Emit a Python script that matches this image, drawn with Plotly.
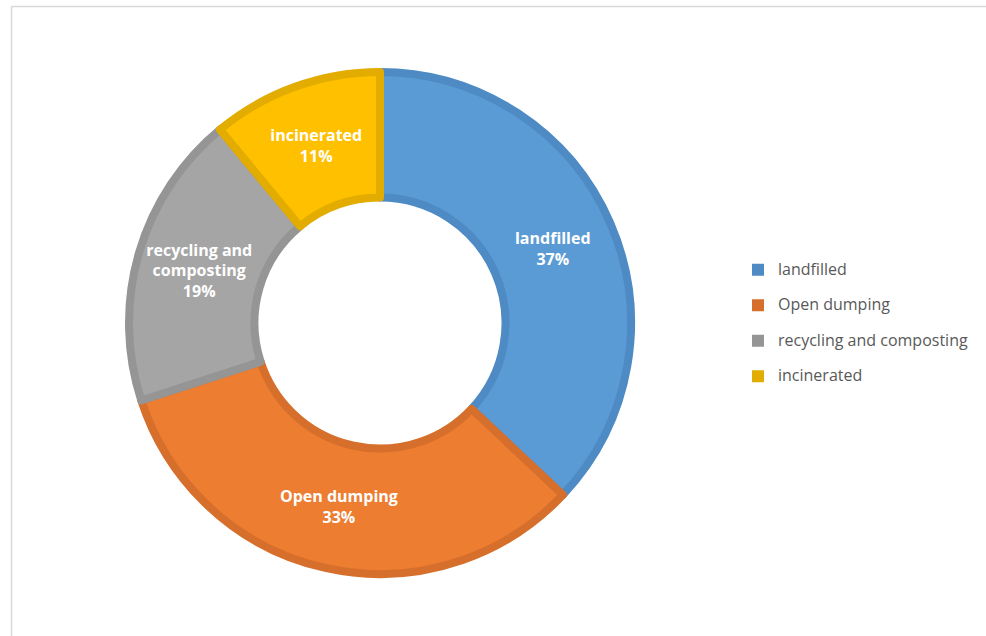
import plotly.graph_objects as go

labels = ["landfilled", "Open dumping", "recycling and composting", "incinerated"]
values = [37, 33, 19, 11]
slice_text = ["landfilled", "Open dumping", "recycling and<br>composting", "incinerated"]
fill_colors = ["#5B9BD5", "#ED7D31", "#A5A5A5", "#FFC000"]
edge_colors = ["#4E8AC4", "#D66F2B", "#959595", "#E3AC00"]

W, H = 986, 636
cx, cy_top, R = 380, 323, 251
domain = dict(x=[(cx - R) / W, (cx + R) / W],
              y=[(H - cy_top - R) / H, (H - cy_top + R) / H])
FONT = "'Open Sans', 'Noto Sans', sans-serif"

legend_labels = [f"<span style='font-size:16px;baseline-shift:5px'>{l}</span>" for l in labels]

fig = go.Figure()
# legend-bearing layer (plain squares in the legend), fully covered by the bordered layer
fig.add_trace(go.Pie(
    labels=legend_labels, values=values, hole=0.5, sort=False,
    direction="clockwise", rotation=0, domain=domain,
    marker=dict(colors=edge_colors, line=dict(width=0)),
    textinfo="none", hoverinfo="skip", showlegend=True,
))
fig.add_trace(go.Pie(
    labels=legend_labels,
    values=values,
    text=slice_text,
    texttemplate="%{text}<br>%{percent}",
    textposition="inside",
    insidetextorientation="horizontal",
    textfont=dict(family=FONT, size=16, color="white", weight="bold"),
    hole=0.5,
    sort=False,
    direction="clockwise",
    rotation=0,
    marker=dict(colors=fill_colors, line=dict(color=edge_colors, width=8)),
    domain=domain,
    showlegend=False,
))

fig.update_layout(
    width=W, height=H,
    margin=dict(l=0, r=0, t=0, b=0),
    paper_bgcolor="white",
    font=dict(family=FONT, color="#595959"),
    showlegend=True,
    legend=dict(x=738 / W, y=1 - 247 / H, xanchor="left", yanchor="top",
                font=dict(size=25, color="#595959", family=FONT), itemwidth=30),
    shapes=[dict(type="rect", xref="paper", yref="paper",
                 x0=11.5 / W, x1=1.02, y0=-0.02, y1=1 - 6.5 / H,
                 line=dict(color="#D9D9D9", width=1.5), fillcolor="rgba(0,0,0,0)")],
)

fig.write_html("out.html")
